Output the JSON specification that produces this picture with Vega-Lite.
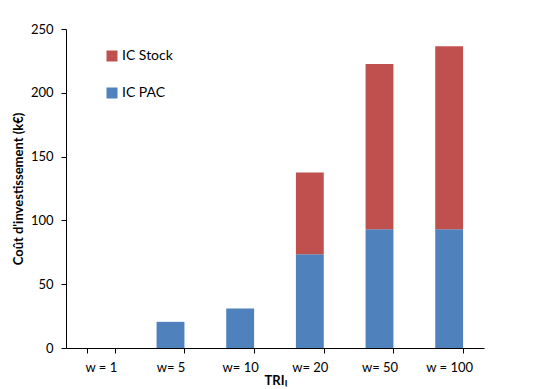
{
  "$schema": "https://vega.github.io/schema/vega-lite/v6.json",
  "autosize": {"type": "none"},
  "padding": {"left": 66, "top": 29, "right": 61, "bottom": 41},
  "width": 418,
  "height": 319,
  "background": "white",
  "config": {
    "view": {"stroke": null},
    "font": "Lato",
    "axis": {"domainColor": "#000000", "tickColor": "#000000", "labelColor": "#000000", "titleColor": "#000000", "grid": false, "labelFont": "Lato", "titleFont": "Lato"}
  },
  "data": {
    "values": [
      {"w": "w = 1", "serie": "IC PAC", "val": 0},
      {"w": "w = 1", "serie": "IC Stock", "val": 0},
      {"w": "w= 5", "serie": "IC PAC", "val": 20.5},
      {"w": "w= 5", "serie": "IC Stock", "val": 0},
      {"w": "w= 10", "serie": "IC PAC", "val": 31},
      {"w": "w= 10", "serie": "IC Stock", "val": 0},
      {"w": "w= 20", "serie": "IC PAC", "val": 73.5},
      {"w": "w= 20", "serie": "IC Stock", "val": 64},
      {"w": "w= 50", "serie": "IC PAC", "val": 93},
      {"w": "w= 50", "serie": "IC Stock", "val": 129.5},
      {"w": "w = 100", "serie": "IC PAC", "val": 93},
      {"w": "w = 100", "serie": "IC Stock", "val": 143.5}
    ]
  },
  "mark": {"type": "bar"},
  "encoding": {
    "x": {
      "field": "w", "type": "nominal", "sort": null,
      "scale": {"paddingInner": 0.6, "paddingOuter": 0.3},
      "axis": {
        "title": "TRIₗ", "titleFontWeight": "bold", "titleFontSize": 13, "titlePadding": 0,
        "labelAngle": 0, "labelFontSize": 13, "labelPadding": 8,
        "tickBand": "extent", "tickSize": 5, "domainWidth": 1
      }
    },
    "y": {
      "field": "val", "type": "quantitative", "stack": "zero",
      "scale": {"domain": [0, 250], "nice": false},
      "axis": {
        "title": "Coût d'investissement (k€)", "titleFontWeight": "bold", "titleFontSize": 13, "titlePadding": 5,
        "values": [0, 50, 100, 150, 200, 250], "labelFontSize": 13, "labelPadding": 8, "tickSize": 5
      }
    },
    "color": {
      "field": "serie", "type": "nominal",
      "scale": {"domain": ["IC Stock", "IC PAC"], "range": ["#C0504D", "#4F81BD"]},
      "legend": {
        "title": null, "orient": "none", "legendX": 39, "legendY": 20,
        "symbolType": "square", "symbolSize": 121, "symbolStrokeWidth": 0,
        "labelFontSize": 14, "labelColor": "#000000", "rowPadding": 23, "labelOffset": 3
      }
    },
    "order": {"field": "serie", "sort": "ascending"}
  }
}
